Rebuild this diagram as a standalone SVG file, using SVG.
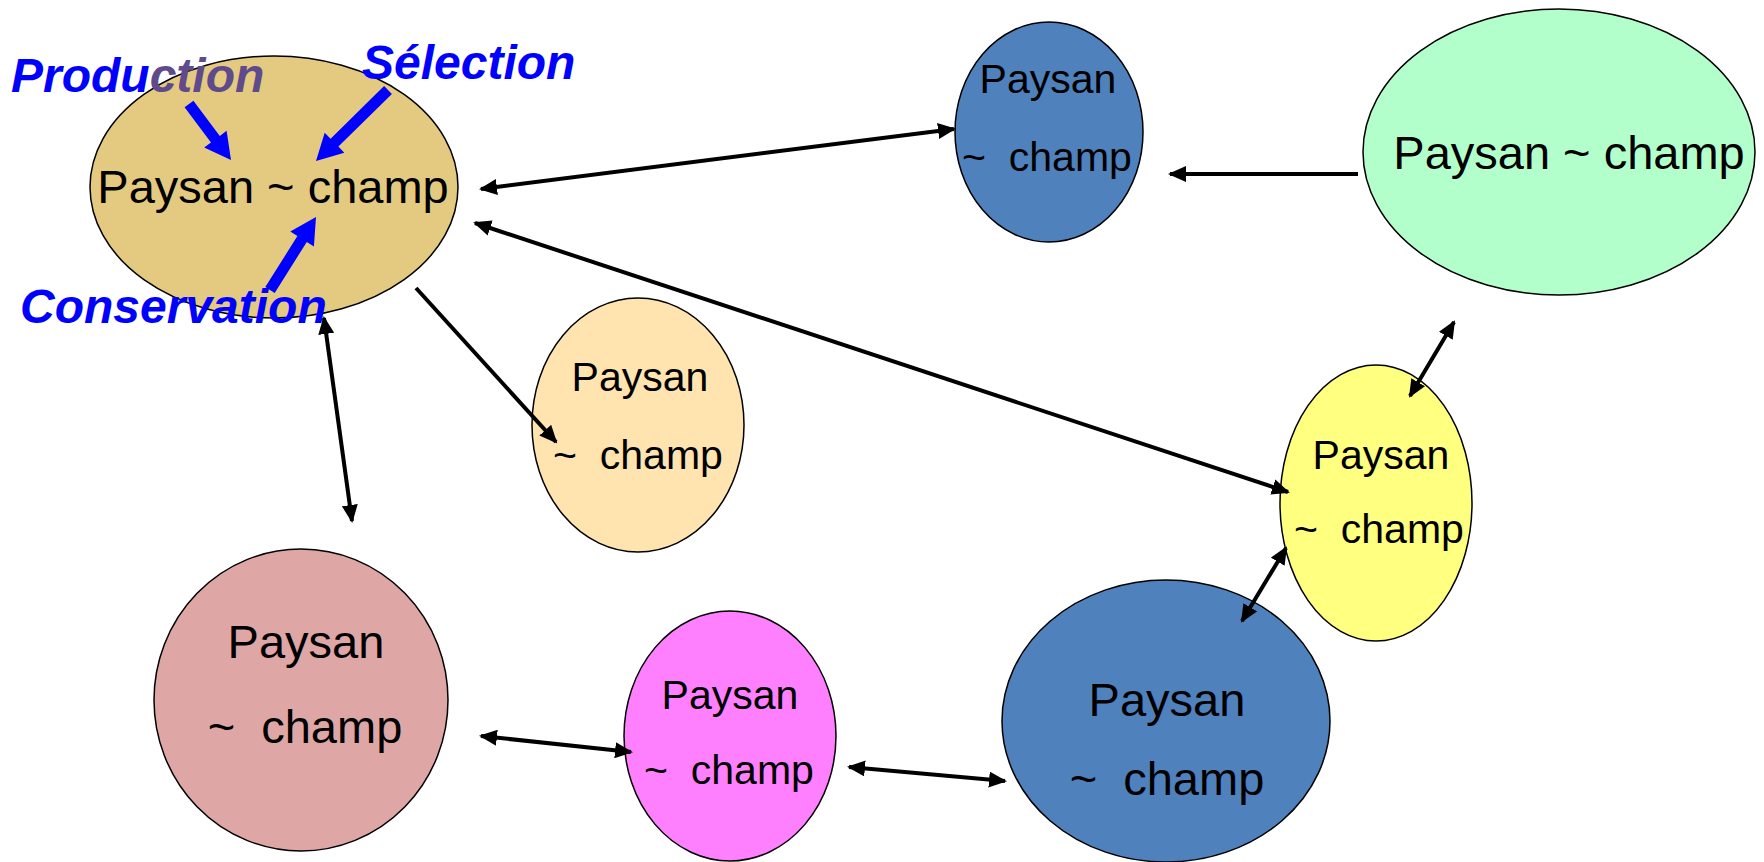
<svg xmlns="http://www.w3.org/2000/svg" width="1764" height="862" viewBox="0 0 1764 862">
<style>
.n{stroke:#000;stroke-width:1.5}
.t{font-family:"Liberation Sans",Arial,sans-serif;fill:#000;text-anchor:middle;white-space:pre}
.s{font-size:41px}
.b{font-size:47px}
.c{stroke:#000;stroke-width:4;fill:none}
.lab{font-family:"Liberation Sans",Arial,sans-serif;font-weight:bold;font-style:italic;font-size:48px;fill:#0000FF}
.ba{fill:#0000FF}
</style>
<defs>
<marker id="ah" markerUnits="userSpaceOnUse" markerWidth="18" markerHeight="16" refX="16" refY="8" orient="auto-start-reverse" viewBox="0 0 18 16">
<path d="M0,0 L18,8 L0,16 z" fill="#000"/>
</marker>
</defs>
<rect width="1764" height="862" fill="#fff"/>
<g id="node-tan">
<ellipse class="n" cx="274" cy="187" rx="184" ry="131" fill="#E3CA80"/>
<text class="t b" x="273" y="203">Paysan ~ champ</text>
</g>
<g id="node-blue-top">
<ellipse class="n" cx="1049" cy="132" rx="94" ry="110" fill="#4F81BD"/>
<text class="t s" x="1048" y="93">Paysan</text>
<text class="t s" x="1047" y="171" xml:space="preserve">~  champ</text>
</g>
<g id="node-green">
<ellipse class="n" cx="1559" cy="152" rx="196" ry="143" fill="#B3FFCC"/>
<text class="t b" x="1569" y="169">Paysan ~ champ</text>
</g>
<g id="node-orange">
<ellipse class="n" cx="638" cy="425" rx="106" ry="127" fill="#FFE4B0"/>
<text class="t s" x="640" y="391">Paysan</text>
<text class="t s" x="638" y="469" xml:space="preserve">~  champ</text>
</g>
<g id="node-yellow">
<ellipse class="n" cx="1376" cy="503" rx="96" ry="138" fill="#FFFF80"/>
<text class="t s" x="1381" y="469">Paysan</text>
<text class="t s" x="1379" y="543" xml:space="preserve">~  champ</text>
</g>
<g id="node-rose">
<ellipse class="n" cx="301" cy="700" rx="147" ry="151" fill="#DFA6A6"/>
<text class="t b" x="306" y="658">Paysan</text>
<text class="t b" x="305" y="743" xml:space="preserve">~  champ</text>
</g>
<g id="node-magenta">
<ellipse class="n" cx="730" cy="736" rx="106" ry="125" fill="#FF80FF"/>
<text class="t s" x="730" y="709">Paysan</text>
<text class="t s" x="729" y="784" xml:space="preserve">~  champ</text>
</g>
<g id="node-blue-bottom">
<ellipse class="n" cx="1166" cy="721" rx="164" ry="141" fill="#4F81BD"/>
<text class="t b" x="1167" y="716">Paysan</text>
<text class="t b" x="1167" y="795" xml:space="preserve">~  champ</text>
</g>
<g id="connectors">
<line class="c" x1="481" y1="189" x2="954" y2="129" marker-start="url(#ah)" marker-end="url(#ah)"/>
<line class="c" x1="1358" y1="174" x2="1170" y2="174" marker-end="url(#ah)"/>
<line class="c" x1="475" y1="223" x2="1288" y2="492" marker-start="url(#ah)" marker-end="url(#ah)"/>
<line class="c" x1="416" y1="288" x2="556" y2="442" marker-end="url(#ah)"/>
<line class="c" x1="324" y1="318" x2="352" y2="521" marker-start="url(#ah)" marker-end="url(#ah)"/>
<line class="c" x1="481" y1="736" x2="631" y2="752" marker-start="url(#ah)" marker-end="url(#ah)"/>
<line class="c" x1="849" y1="767" x2="1005" y2="781" marker-start="url(#ah)" marker-end="url(#ah)"/>
<line class="c" x1="1242" y1="621" x2="1286" y2="548" marker-start="url(#ah)" marker-end="url(#ah)"/>
<line class="c" x1="1410" y1="396" x2="1454" y2="322" marker-start="url(#ah)" marker-end="url(#ah)"/>
</g>
<g id="labels">
<text class="lab" x="11" y="92">Produ<tspan fill="#5F4B8B">ction</tspan></text>
<text class="lab" x="362" y="79">Sélection</text>
<text class="lab" x="20" y="323">Conservation</text>
<polygon class="ba" points="184.6,107.3 211.0,142.5 204.2,147.6 231,160 226.6,130.8 219.8,135.9 193.4,100.7"/>
<polygon class="ba" points="384.1,86.1 330.6,138.8 324.7,132.7 316,161 344.3,152.7 338.4,146.6 391.9,93.9"/>
<polygon class="ba" points="274.7,292.9 306.8,241.9 313.9,246.5 316,217 290.3,231.5 297.4,236.1 265.3,287.1"/>
</g>
</svg>
